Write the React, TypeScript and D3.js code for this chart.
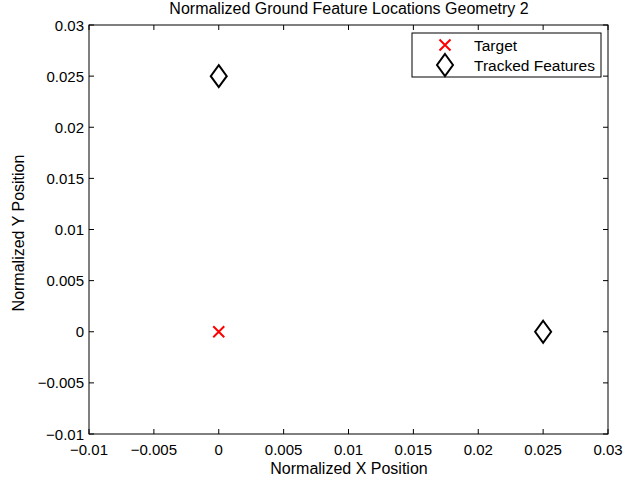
import React from "react";
import * as d3 from "d3";

const xTicks = [-0.01, -0.005, 0, 0.005, 0.01, 0.015, 0.02, 0.025, 0.03];
const yTicks = [-0.01, -0.005, 0, 0.005, 0.01, 0.015, 0.02, 0.025, 0.03];
const targetX = [0];
const targetY = [0];
const featureX = [0, 0.025];
const featureY = [0.025, 0];
const legendLabels = ["Target", "Tracked Features"];

const W = 626, H = 482;
const M = { left: 89, right: 608, top: 25, bottom: 434 };
const FONT = "'Liberation Sans', Arial, Helvetica, sans-serif";

const fmt = (v: number) => {
  if (Math.abs(v) < 1e-12) return "0";
  const s = String(+v.toFixed(4));
  return s.replace("-", "\u2212");
};

function Diamond({ cx, cy }: { cx: number; cy: number }) {
  const w = 8, h = 11;
  return (
    <path
      d={`M${cx},${cy - h}L${cx + w},${cy}L${cx},${cy + h}L${cx - w},${cy}Z`}
      fill="none"
      stroke="#000"
      strokeWidth={2}
    />
  );
}

function Cross({ cx, cy }: { cx: number; cy: number }) {
  const s = 5.5;
  return (
    <path
      d={`M${cx - s},${cy - s}L${cx + s},${cy + s}M${cx - s},${cy + s}L${cx + s},${cy - s}`}
      stroke="#ff0000"
      strokeWidth={2}
      fill="none"
    />
  );
}

export default function App() {
  const x = d3.scaleLinear().domain([-0.01, 0.03]).range([M.left, M.right]);
  const y = d3.scaleLinear().domain([-0.01, 0.03]).range([M.bottom, M.top]);
  const tl = 5;
  return (
    <svg
      width={W}
      height={H}
      style={{ position: "absolute", left: 0, top: 0, background: "#fff" }}
      fontFamily={FONT}
    >
      <rect x={0} y={0} width={W} height={H} fill="#fff" />
      <rect
        x={M.left}
        y={M.top}
        width={M.right - M.left}
        height={M.bottom - M.top}
        fill="#fff"
        stroke="#000"
        strokeWidth={1}
      />
      {xTicks.map((t, i) => (
        <g key={"xt" + i}>
          <line x1={x(t)} x2={x(t)} y1={M.bottom} y2={M.bottom - tl} stroke="#000" />
          <line x1={x(t)} x2={x(t)} y1={M.top} y2={M.top + tl} stroke="#000" />
          <text x={x(t)} y={M.bottom + 21} fontSize={15} textAnchor="middle">
            {fmt(t)}
          </text>
        </g>
      ))}
      {yTicks.map((t, i) => (
        <g key={"yt" + i}>
          <line x1={M.left} x2={M.left + tl} y1={y(t)} y2={y(t)} stroke="#000" />
          <line x1={M.right} x2={M.right - tl} y1={y(t)} y2={y(t)} stroke="#000" />
          <text x={M.left - 5} y={y(t) + 5.5} fontSize={15} textAnchor="end">
            {fmt(t)}
          </text>
        </g>
      ))}
      {targetX.map((v, i) => (
        <Cross key={"c" + i} cx={x(v)} cy={y(targetY[i])} />
      ))}
      {featureX.map((v, i) => (
        <Diamond key={"d" + i} cx={x(v)} cy={y(featureY[i])} />
      ))}
      <text x={349} y={14} fontSize={16} textAnchor="middle">
        Normalized Ground Feature Locations Geometry 2
      </text>
      <text x={349} y={474} fontSize={16} textAnchor="middle">
        Normalized X Position
      </text>
      <text
        transform={`translate(24,233) rotate(-90)`}
        fontSize={16}
        textAnchor="middle"
      >
        Normalized Y Position
      </text>
      <g>
        <rect x={412} y={33} width={189} height={44} fill="#fff" stroke="#000" strokeWidth={1} />
        <Cross cx={445} cy={45} />
        <Diamond cx={445} cy={65} />
        <text x={474} y={50.5} fontSize={15.5}>{legendLabels[0]}</text>
        <text x={474} y={70.5} fontSize={15.5}>{legendLabels[1]}</text>
      </g>
    </svg>
  );
}
